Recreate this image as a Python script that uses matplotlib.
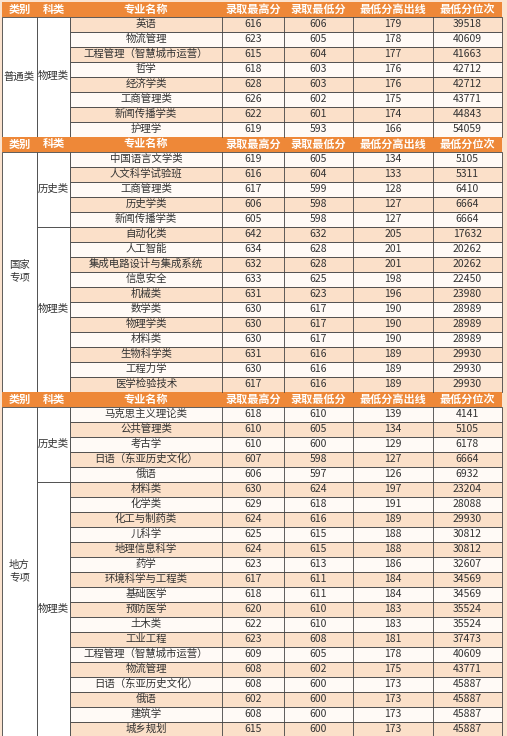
import matplotlib.pyplot as plt
from matplotlib.patches import Rectangle

plt.rcParams['font.family'] = ['Noto Sans CJK SC', 'DejaVu Sans']

headers = ['类别', '科类', '专业名称', '录取最高分', '录取最低分', '最低分高出线', '最低分位次']

# section 1: 普通类 / 物理类
s1_names = ['英语', '物流管理', '工程管理（智慧城市运营）', '哲学', '经济学类', '工商管理类', '新闻传播学类', '护理学']
s1_max = [616, 623, 615, 618, 628, 626, 622, 619]
s1_min = [606, 605, 604, 603, 603, 602, 601, 593]
s1_over = [179, 178, 177, 176, 176, 175, 174, 166]
s1_rank = [39518, 40609, 41663, 42712, 42712, 43771, 44843, 54059]

# section 2: 国家专项
s2_hist_names = ['中国语言文学类', '人文科学试验班', '工商管理类', '历史学类', '新闻传播学类']
s2_hist_max = [619, 616, 617, 606, 605]
s2_hist_min = [605, 604, 599, 598, 598]
s2_hist_over = [134, 133, 128, 127, 127]
s2_hist_rank = [5105, 5311, 6410, 6664, 6664]
s2_phys_names = ['自动化类', '人工智能', '集成电路设计与集成系统', '信息安全', '机械类', '数学类',
                 '物理学类', '材料类', '生物科学类', '工程力学', '医学检验技术']
s2_phys_max = [642, 634, 632, 633, 631, 630, 630, 630, 631, 630, 617]
s2_phys_min = [632, 628, 628, 625, 623, 617, 617, 617, 616, 616, 616]
s2_phys_over = [205, 201, 201, 198, 196, 190, 190, 190, 189, 189, 189]
s2_phys_rank = [17632, 20262, 20262, 22450, 23980, 28989, 28989, 28989, 29930, 29930, 29930]

# section 3: 地方专项
s3_hist_names = ['马克思主义理论类', '公共管理类', '考古学', '日语（东亚历史文化）', '俄语']
s3_hist_max = [618, 610, 610, 607, 606]
s3_hist_min = [610, 605, 600, 598, 597]
s3_hist_over = [139, 134, 129, 127, 126]
s3_hist_rank = [4141, 5105, 6178, 6664, 6932]
s3_phys_names = ['材料类', '化学类', '化工与制药类', '儿科学', '地理信息科学', '药学', '环境科学与工程类',
                 '基础医学', '预防医学', '土木类', '工业工程', '工程管理（智慧城市运营）', '物流管理',
                 '日语（东亚历史文化）', '俄语', '建筑学', '城乡规划']
s3_phys_max = [630, 629, 624, 625, 624, 623, 617, 618, 620, 622, 623, 609, 608, 608, 602, 608, 615]
s3_phys_min = [624, 618, 616, 615, 615, 613, 611, 611, 610, 610, 608, 605, 602, 600, 600, 600, 600]
s3_phys_over = [197, 191, 189, 188, 188, 186, 184, 184, 183, 183, 181, 178, 175, 173, 173, 173, 173]
s3_phys_rank = [23204, 28088, 29930, 30812, 30812, 32607, 34569, 34569, 35524, 35524, 37473, 40609,
                43771, 45887, 45887, 45887, 45887]

sections = [
    ('普通类', 0, [('物理类', s1_names, s1_max, s1_min, s1_over, s1_rank)]),
    ('国家\n专项', 1, [('历史类', s2_hist_names, s2_hist_max, s2_hist_min, s2_hist_over, s2_hist_rank),
                     ('物理类', s2_phys_names, s2_phys_max, s2_phys_min, s2_phys_over, s2_phys_rank)]),
    ('地方\n专项', 1, [('历史类', s3_hist_names, s3_hist_max, s3_hist_min, s3_hist_over, s3_hist_rank),
                     ('物理类', s3_phys_names, s3_phys_max, s3_phys_min, s3_phys_over, s3_phys_rank)]),
]

W, H = 507, 736
xs = [2, 37, 70, 222, 284, 353, 433, 502]
rh = 15.0
header_c = '#EE8838'
tint = '#FBE0C9'
plain = '#FFFAF6'
line_c = '#444444'

fig = plt.figure(figsize=(W / 100, H / 100), dpi=100)
fig.patch.set_facecolor('#FBE3CF')
ax = fig.add_axes([0, 0, 1, 1])
ax.set_xlim(0, W)
ax.set_ylim(H, 0)
ax.axis('off')

y = 1.5
for sec_label, start, groups in sections:
    # header row
    ax.add_patch(Rectangle((xs[0], y), xs[-1] - xs[0], rh, fc=header_c, ec='none'))
    for i, h in enumerate(headers):
        ax.text((xs[i] + xs[i + 1]) / 2, y + rh / 2, h, ha='center', va='center',
                color='white', fontsize=8, fontweight='bold')
    y += rh
    sec_top = y
    k = start
    for grp_label, names, mx, mn, ov, rk in groups:
        g_top = y
        for j in range(len(names)):
            fc = tint if k % 2 == 0 else plain
            ax.add_patch(Rectangle((xs[2], y), xs[-1] - xs[2], rh, fc=fc, ec=line_c, lw=0.6))
            vals = [names[j], mx[j], mn[j], ov[j], rk[j]]
            for c, v in enumerate(vals):
                ax.text((xs[c + 2] + xs[c + 3]) / 2, y + rh / 2, str(v), ha='center', va='center',
                        color='#333333', fontsize=7.5)
            for xv in xs[3:-1]:
                ax.plot([xv, xv], [y, y + rh], color=line_c, lw=0.6)
            y += rh
            k += 1
        ax.add_patch(Rectangle((xs[1], g_top), xs[2] - xs[1], y - g_top, fc='white', ec=line_c, lw=0.6))
        ax.text((xs[1] + xs[2]) / 2, (g_top + y) / 2, grp_label, ha='center', va='center',
                color='#333333', fontsize=7.5)
    ax.add_patch(Rectangle((xs[0], sec_top), xs[1] - xs[0], y - sec_top, fc='white', ec=line_c, lw=0.6))
    ax.text((xs[0] + xs[1]) / 2, (sec_top + y) / 2, sec_label, ha='center', va='center',
            color='#333333', fontsize=7.5, linespacing=1.4)

fig.savefig('out.png', dpi=100, facecolor=fig.get_facecolor())
